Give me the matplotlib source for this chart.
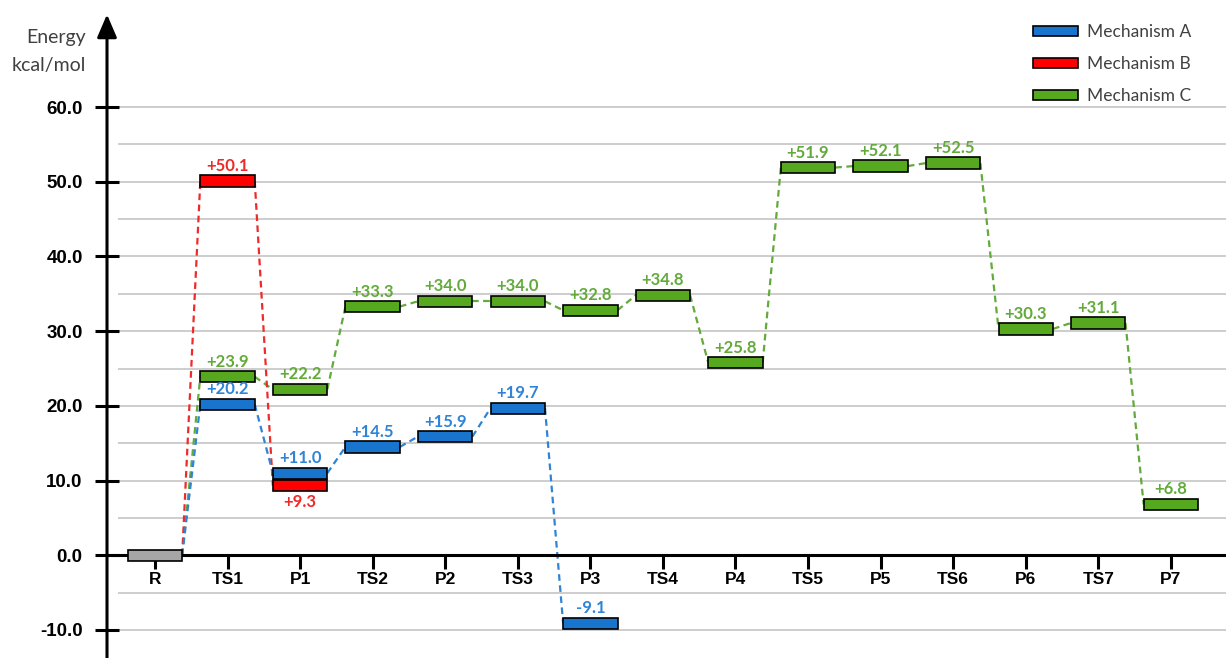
import matplotlib.pyplot as plt
from matplotlib.patches import Patch

# reaction coordinate (x categories)
states = ['R', 'TS1', 'P1', 'TS2', 'P2', 'TS3', 'P3', 'TS4', 'P4',
          'TS5', 'P5', 'TS6', 'P6', 'TS7', 'P7']

# energies in kcal/mol, relative to R
mech_a_states = ['R', 'TS1', 'P1', 'TS2', 'P2', 'TS3', 'P3']
mech_a = [0.0, 20.2, 11.0, 14.5, 15.9, 19.7, -9.1]

mech_b_states = ['R', 'TS1', 'P1']
mech_b = [0.0, 50.1, 9.3]

mech_c_states = states
mech_c = [0.0, 23.9, 22.2, 33.3, 34.0, 34.0, 32.8, 34.8, 25.8,
          51.9, 52.1, 52.5, 30.3, 31.1, 6.8]

y_ticks = [-10, 0, 10, 20, 30, 40, 50, 60]
grid_levels = [-10, -5, 5, 10, 15, 20, 25, 30, 35, 40, 45, 50, 55, 60]

bar_w = 0.75
bar_h = 1.5

plt.rcParams['font.family'] = ['Liberation Sans', 'DejaVu Sans']

fig = plt.figure(figsize=(12.26, 6.58), dpi=100)
ax = fig.add_axes([107 / 1226, 0, 1119 / 1226, 1])
xmin, xmax = -0.661, 14.76
ax.set_xlim(xmin, xmax)
ax.set_ylim(-13.75, 74.33)

ax.hlines(grid_levels, -0.51, xmax, color='#C0C0C0', lw=1.1, zorder=1)

pos = {s: i for i, s in enumerate(states)}

mechs = [
    # name, states, values, bar color, line/label color
    ('Mechanism C', mech_c_states, mech_c, '#56A81E', '#62AA3A'),
    ('Mechanism B', mech_b_states, mech_b, '#FF0000', '#EE2A2A'),
    ('Mechanism A', mech_a_states, mech_a, '#1874CD', '#2F84D6'),
]

lbl_font = dict(fontsize=12, fontweight='bold', family=['Lato', 'DejaVu Sans'], zorder=4)

for name, st, vals, bc, lc in mechs:
    xs = [pos[s] for s in st]
    # dashed connectors between bar edges
    for k in range(len(xs) - 1):
        ax.plot([xs[k] + bar_w / 2, xs[k + 1] - bar_w / 2], [vals[k], vals[k + 1]],
                color=lc, lw=1.6, ls=(0, (3, 2)), zorder=2)
    # level bars (R is drawn grey below)
    ax.bar(xs[1:], bar_h, bottom=[v - bar_h / 2 for v in vals[1:]], width=bar_w,
           color=bc, edgecolor='black', lw=1.2, zorder=3)
    for s, x, v in zip(st[1:], xs[1:], vals[1:]):
        if name == 'Mechanism B' and s == 'P1':
            ax.annotate(f'{v:+.1f}', (x, v - bar_h / 2), xytext=(0, -2),
                        textcoords='offset points', ha='center', va='top',
                        color=lc, **lbl_font)
        else:
            ax.annotate(f'{v:+.1f}', (x, v + bar_h / 2), xytext=(0, 1),
                        textcoords='offset points', ha='center', va='bottom',
                        color=lc, **lbl_font)

# reactant level
ax.bar([pos['R']], bar_h, bottom=[mech_c[0] - bar_h / 2], width=bar_w,
       color='#A6A6A6', edgecolor='black', lw=1.2, zorder=3)

# axes styling
for s in ['top', 'right', 'left']:
    ax.spines[s].set_visible(False)
ax.spines['bottom'].set_position(('data', 0))
ax.spines['bottom'].set_linewidth(2.2)
ax.spines['bottom'].set_zorder(2.5)

ax.set_xticks(range(len(states)))
ax.set_xticklabels(states, fontsize=12.5, fontweight='bold')
ax.tick_params(axis='x', direction='out', length=10, width=2.2, pad=2)

ax.set_yticks(y_ticks)
ax.set_yticklabels([f'{t:.1f}' for t in y_ticks], fontsize=13.5, fontweight='bold')
ax.tick_params(axis='y', direction='inout', length=17, width=2.2, pad=9)

# y axis with arrow head
ax.annotate('', xy=(xmin, 72.4), xytext=(xmin, -13.75),
            arrowprops=dict(arrowstyle='-|>,head_length=0.7,head_width=0.3',
                            lw=2.2, color='black', shrinkA=0, shrinkB=0,
                            mutation_scale=20),
            annotation_clip=False, zorder=5)

fig.text(86 / 1226, 1 - 38 / 658, 'Energy', ha='right', va='center',
         fontsize=14, color='#404040', family=['Lato', 'DejaVu Sans'])
fig.text(86 / 1226, 1 - 65 / 658, 'kcal/mol', ha='right', va='center',
         fontsize=14, color='#404040', family=['Lato', 'DejaVu Sans'])

handles = [Patch(facecolor='#1874CD', edgecolor='black', lw=1.2),
           Patch(facecolor='#FF0000', edgecolor='black', lw=1.2),
           Patch(facecolor='#56A81E', edgecolor='black', lw=1.2)]
fig.legend(handles, ['Mechanism A', 'Mechanism B', 'Mechanism C'],
           loc='upper left', bbox_to_anchor=(1033 / 1226, 1 - 24 / 658),
           frameon=False, borderpad=0, borderaxespad=0,
           handlelength=2.6, handleheight=0.52, handletextpad=0.5,
           labelspacing=0.93, labelcolor='#404040',
           prop={'family': ['Lato', 'DejaVu Sans'], 'size': 12.5})

fig.savefig('out.png', dpi=100)
